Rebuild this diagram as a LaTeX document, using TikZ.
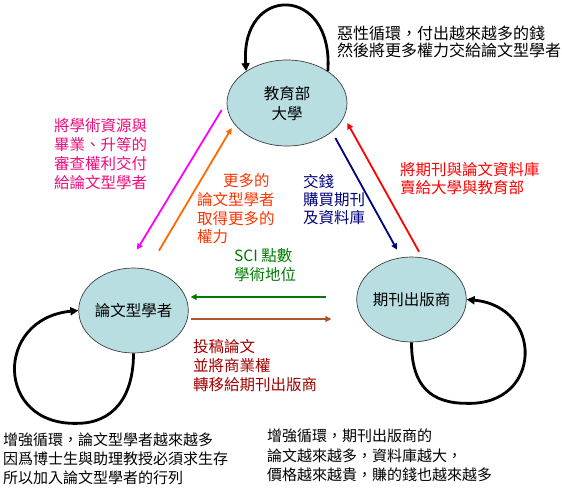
\documentclass[tikz,border=0pt]{standalone}
\usepackage{fontspec}
\setmainfont{Noto Sans CJK TC}
\usetikzlibrary{positioning,arrows.meta,shapes.geometric,calc}
\definecolor{pcFill}{HTML}{B8DEE2}
\definecolor{pcEdge}{HTML}{3F3F3F}
\definecolor{pcMagenta}{HTML}{FF00FF}
\definecolor{pcPink}{HTML}{EC0C7C}
\definecolor{pcOrange}{HTML}{FF6A00}
\definecolor{pcOrangeRed}{HTML}{FF3300}
\definecolor{pcNavy}{HTML}{000080}
\definecolor{pcRed}{HTML}{FF0000}
\definecolor{pcGreen}{HTML}{007A00}
\definecolor{pcBrown}{HTML}{B0522A}
\definecolor{pcMaroon}{HTML}{A00000}

\begin{document}
\begin{tikzpicture}[
  x=1pt, y=-1pt,
  font=\fontsize{15.5}{19}\selectfont,
  actor/.style={ellipse, draw=pcEdge, line width=0.7pt, fill=pcFill, inner sep=0pt,
                align=center, font=\fontsize{15.5}{20}\selectfont},
  note/.style={align=left, inner sep=0pt, anchor=west},
  flow/.style={-{Triangle[length=6pt,width=6pt]}, line width=1.8pt},
  cyc/.style={-{Triangle[length=8pt,width=8pt]}, line width=2.8pt},
]
\useasboundingbox (0,0) rectangle (562,493);

% Actors
\node[actor, minimum width=120pt, minimum height=86pt] (edu)  at (287,103)     {教育部\\大學};
\node[actor, minimum width=109pt, minimum height=85pt] (auth) at (133.5,310.5) {論文型學者};
\node[actor, minimum width=109pt, minimum height=85pt] (pub)  at (411.5,299.5) {期刊出版商};

% Self loops
\draw[cyc] (edu.38) .. controls +(6,-87) and +(-6,-87) .. (edu.142);
\draw[cyc] (auth.south) .. controls +(0,45) and +(35,0) .. ++(-56.5,70)
           .. controls +(-82,2) and +(-84,8) .. (auth.west);
\draw[cyc] (pub.south) .. controls +(0,45) and +(-35,0) .. ++(55.5,61)
           .. controls +(76,2) and +(77,7) .. (pub.east);

% Flows
\draw[flow, pcMagenta] ($(edu.west)+(-5,7)$) -- ($(auth.north)+(3.5,-18)$);
\draw[flow, pcOrange]  ($(auth.north)+(25.5,-17)$) -- ($(edu.west)+(5,25)$);
\draw[flow, pcNavy]    ($(edu.east)+(-12,35)$) -- ($(pub.north)+(-14.5,-7)$);
\draw[flow, pcRed]     ($(pub.north)+(7.5,-5)$) -- ($(edu.east)+(0,20)$);
\draw[flow, pcGreen]   ($(pub.west)+(-30,-2.5)$) -- ($(auth.east)+(2,-13.5)$);
\draw[flow, pcBrown]   ($(auth.east)+(2,8.5)$) -- ($(pub.west)+(-25,19.5)$);

% Notes
\node[note, font=\fontsize{16}{17}\selectfont] (vicious) at (337,41.5)
  {惡性循環，付出越來越多的錢\\然後將更多權力交給論文型學者};
\node[note, text=pcPink] (handover) at (54,154.5)
  {將學術資源與\\畢業、升等的\\審查權利交付\\給論文型學者};
\node[note, text=pcOrangeRed, font=\fontsize{15.5}{18.7}\selectfont] (power) at (197,209)
  {\hspace*{26pt}更多的\\論文型學者\\取得更多的\\權力};
\node[note, text=pcNavy, font=\fontsize{15.5}{18}\selectfont] (pay) at (303,200)
  {交錢\\購買期刊\\及資料庫};
\node[note, text=pcRed, font=\fontsize{15.5}{18}\selectfont] (sell) at (400,179)
  {將期刊與論文資料庫\\賣給大學與教育部};
\node[note, text=pcGreen] (sci) at (234,265) {SCI 點數\\學術地位};
\node[note, text=pcMaroon] (submit) at (193,366)
  {投稿論文\\並將商業權\\轉移給期刊出版商};
\node[note, font=\fontsize{15}{19}\selectfont] (authloop) at (3,459)
  {增強循環，論文型學者越來越多\\因爲博士生與助理教授必須求生存\\所以加入論文型學者的行列};
\node[note, font=\fontsize{15}{19.5}\selectfont] (publoop) at (267,455.5)
  {增強循環，期刊出版商的\\論文越來越多，資料庫越大，\\價格越來越貴，賺的錢也越來越多};

\end{tikzpicture}
\end{document}
